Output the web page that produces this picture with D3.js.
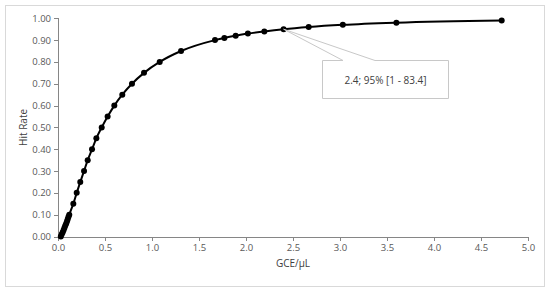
<!DOCTYPE html>
<html lang="en">
<head>
<meta charset="utf-8">
<title>Hit rate vs GCE</title>
<script src="https://cdn.jsdelivr.net/npm/d3@7"></script>
<style>
  body { margin: 0; background: #fff; }
  .axis path, .axis line { stroke: #868686; shape-rendering: crispEdges; }
  .axis text { font-family: "Open Sans", sans-serif; font-size: 9.5px; fill: #595959; }
  .title { font-family: "Open Sans", sans-serif; font-size: 10px; fill: #404040; }
</style>
</head>
<body>
<script>
// data
var gce = [0.030, 0.040, 0.050, 0.060, 0.069, 0.078, 0.087, 0.096, 0.104, 0.112, 0.120,
           0.163, 0.199, 0.237, 0.277, 0.316, 0.362, 0.408, 0.465, 0.528, 0.599, 0.684,
           0.787, 0.915, 1.082, 1.309, 1.670, 1.770, 1.890, 2.020, 2.195, 2.400, 2.667,
           3.030, 3.600, 4.720];
var hitRate = [0.00, 0.01, 0.02, 0.03, 0.04, 0.05, 0.06, 0.07, 0.08, 0.09, 0.10,
               0.15, 0.20, 0.25, 0.30, 0.35, 0.40, 0.45, 0.50, 0.55, 0.60, 0.65,
               0.70, 0.75, 0.80, 0.85, 0.90, 0.91, 0.92, 0.93, 0.94, 0.95, 0.96,
               0.97, 0.98, 0.99];
var xTicks = [0, 0.5, 1.0, 1.5, 2.0, 2.5, 3.0, 3.5, 4.0, 4.5, 5.0];
var yTicks = [0, 0.1, 0.2, 0.3, 0.4, 0.5, 0.6, 0.7, 0.8, 0.9, 1.0];
var labelPoint = [2.4, 0.95];
var labelText = "2.4; 95% [1  - 83.4]";

var w = 550, h = 292;
var points = gce.map(function(d, i) { return [d, hitRate[i]]; });

var svg = d3.select("body").append("svg")
  .attr("width", w).attr("height", h);

// outer chart border
svg.append("rect")
  .attr("x", 5.5).attr("y", 5.5)
  .attr("width", 539).attr("height", 281)
  .attr("fill", "none").attr("stroke", "#d9d9d9");

var xScale = d3.scaleLinear().domain([0, 5]).range([58, 528]);
var yScale = d3.scaleLinear().domain([0, 1]).range([236.5, 18.3]);

var xAxis = d3.axisBottom(xScale).tickValues(xTicks)
  .tickFormat(d3.format(".1f")).tickSizeOuter(0).tickSize(4);
var yAxis = d3.axisLeft(yScale).tickValues(yTicks)
  .tickFormat(d3.format(".2f")).tickSizeOuter(0).tickSize(4);

svg.append("g").attr("class", "axis")
  .attr("transform", "translate(0," + yScale(0) + ")")
  .call(xAxis)
  .selectAll("text").attr("dy", "0.8em");

svg.append("g").attr("class", "axis")
  .attr("transform", "translate(" + xScale(0) + ",0)")
  .call(yAxis)
  .selectAll("text").attr("x", -7);

// curve
var line = d3.line()
  .x(function(d) { return xScale(d[0]); })
  .y(function(d) { return yScale(d[1]); })
  .curve(d3.curveMonotoneX);

svg.append("path")
  .datum(points)
  .attr("d", line)
  .attr("fill", "none")
  .attr("stroke", "#000")
  .attr("stroke-width", 2);

svg.selectAll("circle.pt")
  .data(points)
  .enter()
  .append("circle")
  .attr("class", "pt")
  .attr("cx", function(d) { return xScale(d[0]); })
  .attr("cy", function(d) { return yScale(d[1]); })
  .attr("r", 3)
  .attr("fill", "#000");

// callout box with wedge pointing to the labelled point
var bx = 322.5, by = 60.5, bw = 126, bh = 38;
var px = xScale(labelPoint[0]), py = yScale(labelPoint[1]);
var callout = svg.append("g");
callout.append("path")
  .attr("d", "M" + bx + "," + by +
    " L343," + by + " L" + px + "," + py + " L375," + by +
    " L" + (bx + bw) + "," + by + " L" + (bx + bw) + "," + (by + bh) +
    " L" + bx + "," + (by + bh) + " Z")
  .attr("fill", "#fff")
  .attr("stroke", "#c8c8c8")
  .attr("stroke-width", 1);
callout.append("text")
  .attr("class", "title")
  .attr("x", bx + bw / 2).attr("y", by + bh / 2 + 4)
  .attr("text-anchor", "middle")
  .text(labelText);

// axis titles
svg.append("text").attr("class", "title")
  .attr("x", (xScale(0) + xScale(5)) / 2).attr("y", 267)
  .attr("text-anchor", "middle")
  .text("GCE/μL");

svg.append("text").attr("class", "title")
  .attr("transform", "translate(27," + yScale(0.5) + ") rotate(-90)")
  .attr("text-anchor", "middle")
  .text("Hit Rate");
</script>
</body>
</html>
